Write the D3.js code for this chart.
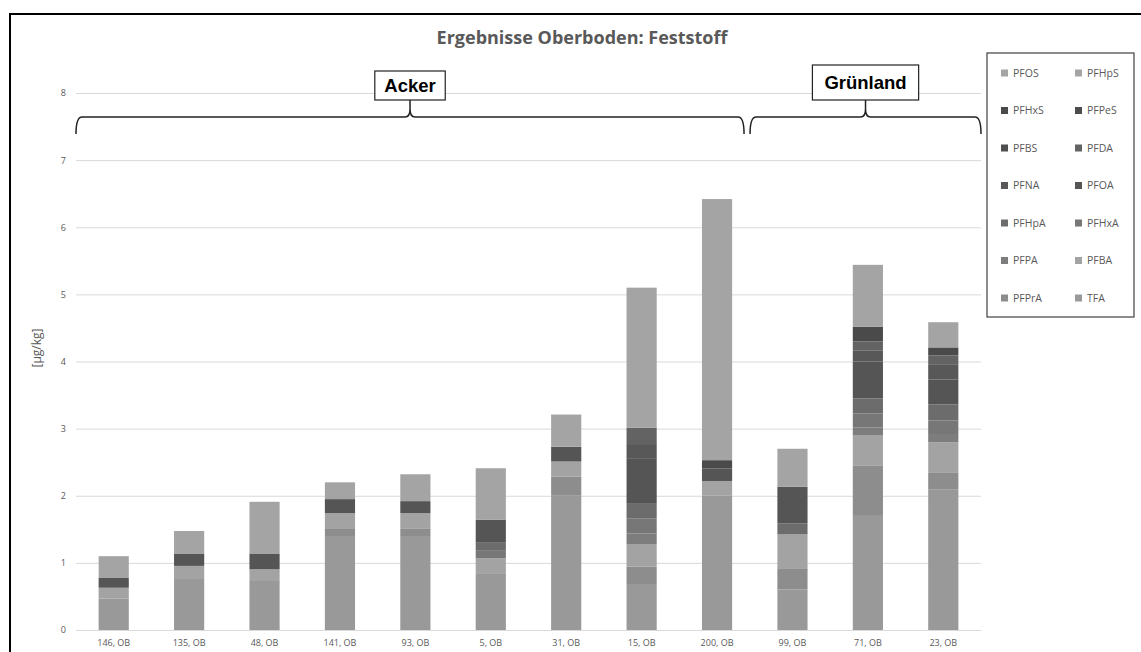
<!DOCTYPE html>
<html><head><meta charset="utf-8">
<script src="https://cdn.jsdelivr.net/npm/d3@7"></script>
<style>body{margin:0;background:#fff}svg{display:block}</style>
</head><body>
<svg id="c" width="1141" height="652"></svg>
<script>
const categories = ["146, OB","135, OB","48, OB","141, OB","93, OB","5, OB","31, OB","15, OB","200, OB","99, OB","71, OB","23, OB"];
// stack order bottom -> top
const seriesNames = ["TFA","PFPrA","PFBA","PFPA","PFHxA","PFHpA","PFOA","PFNA","PFDA","PFBS","PFPeS","PFHxS","PFHpS","PFOS"];
const TFA   = [0.47,0.76,0.73,1.40,1.40,0.835,2.00,0.685,2.00,0.605,1.70,2.09];
const PFPrA = [0,0,0,0.105,0.115,0,0.285,0.26,0,0.315,0.745,0.25];
const PFBA  = [0.16,0.195,0.175,0.235,0.225,0.235,0.225,0.335,0.22,0.51,0.46,0.455];
const PFPA  = [0,0,0,0,0,0,0,0.16,0,0,0.11,0.125];
const PFHxA = [0,0,0,0,0,0.12,0,0.225,0,0,0.21,0.20];
const PFHpA = [0,0,0,0,0,0.11,0,0.215,0,0.16,0.225,0.24];
const PFOA  = [0.145,0.185,0.235,0.21,0.18,0.345,0.22,0.68,0.185,0.545,0.55,0.37];
const PFNA  = [0,0,0,0,0,0,0,0.21,0,0,0.16,0.23];
const PFDA  = [0,0,0,0,0,0,0,0.245,0,0,0.14,0.13];
const PFBS  = [0,0,0,0,0,0,0,0,0,0,0,0];
const PFPeS = [0,0,0,0,0,0,0,0,0,0,0,0];
const PFHxS = [0,0,0,0,0,0,0,0,0.125,0,0.22,0.12];
const PFHpS = [0,0,0,0,0,0,0,0,0,0,0,0];
const PFOS  = [0.325,0.335,0.77,0.25,0.40,0.765,0.48,2.085,3.89,0.565,0.92,0.375];
const yTicks = [0,1,2,3,4,5,6,7,8];
const legendOrder = ["PFOS","PFHpS","PFHxS","PFPeS","PFBS","PFDA","PFNA","PFOA","PFHpA","PFHxA","PFPA","PFBA","PFPrA","TFA"];
const groups = [{label:"Acker", from:"146, OB", to:"200, OB"},{label:"Grünland", from:"99, OB", to:"23, OB"}];

(function(){
const seriesValues = {TFA,PFPrA,PFBA,PFPA,PFHxA,PFHpA,PFOA,PFNA,PFDA,PFBS,PFPeS,PFHxS,PFHpS,PFOS};
const colors = {TFA:"#999999",PFPrA:"#8d8d8d",PFBA:"#a3a3a3",PFPA:"#7d7d7d",PFHxA:"#777777",PFHpA:"#6c6c6c",
  PFOA:"#555555",PFNA:"#585858",PFDA:"#636363",PFBS:"#4f4f4f",PFPeS:"#4d4d4d",PFHxS:"#4a4a4a",PFHpS:"#a5a5a5",PFOS:"#a4a4a4"};

const svg = d3.select("#c");
const font = "'Open Sans', sans-serif";
const pL = 76, pR = 981, pT = 93, pB = 630;

const x = d3.scaleBand().domain(categories).range([pL,pR]).paddingInner(0.6).paddingOuter(0.3);
const y = d3.scaleLinear().domain([0,8]).range([pB,pT]);

// outer frame
svg.append("rect").attr("x",10).attr("y",14).attr("width",1140).attr("height",660)
  .attr("fill","none").attr("stroke","#000").attr("stroke-width",2);

// title
svg.append("text").attr("x",582).attr("y",44).attr("text-anchor","middle")
  .attr("font-family",font).attr("font-weight","bold").attr("font-size",18).attr("fill","#595959")
  .text("Ergebnisse Oberboden: Feststoff");

// gridlines
const yAxis = d3.axisLeft(y).tickValues(yTicks).tickSize(-(pR-pL)).tickFormat(d3.format("d"));
const gy = svg.append("g").attr("transform",`translate(${pL},0)`).call(yAxis);
gy.select(".domain").remove();
gy.selectAll(".tick line").attr("stroke","#d9d9d9").attr("stroke-width",1);
gy.selectAll(".tick text").attr("x",-10).attr("font-family",font).attr("font-size",9).attr("fill","#595959");

// y title
svg.append("text").attr("transform","translate(41,348) rotate(-90)").attr("text-anchor","middle")
  .attr("font-family",font).attr("font-size",12).attr("fill","#595959").text("[µg/kg]");

// stacked bars
const rows = categories.map((c,i)=>{const o={cat:c}; seriesNames.forEach(s=>o[s]=seriesValues[s][i]); return o;});
const stacked = d3.stack().keys(seriesNames)(rows);
svg.append("g").selectAll("g").data(stacked).join("g").attr("fill",d=>colors[d.key])
  .selectAll("rect").data(d=>d).join("rect")
  .attr("x",d=>x(d.data.cat)).attr("width",x.bandwidth())
  .attr("y",d=>y(d[1])).attr("height",d=>Math.max(0,y(d[0])-y(d[1])));

// x axis labels
const xAxis = d3.axisBottom(x).tickSize(0);
const gx = svg.append("g").attr("transform",`translate(0,${pB})`).call(xAxis);
gx.select(".domain").remove();
gx.selectAll(".tick text").attr("dy","1.45em").attr("font-family",font).attr("font-size",9).attr("fill","#595959");

// group braces
const braceY = 117, braceEnd = 134, step = x.step();
groups.forEach((g,gi)=>{
  const half = (step - x.bandwidth())/2;
  const x0 = gi===0 ? x(g.from) - half : x(g.from) - half - 4.7;
  const x1 = gi===0 ? x(g.to) + x.bandwidth() + half - 10.7 : x(g.to) + x.bandwidth() + half;
  const tip = (x0+x1)/2;
  const p = `M${x0},${braceEnd} Q${x0},${braceY} ${x0+6},${braceY} H${tip-5} Q${tip},${braceY} ${tip},${braceY-8} L${tip},${braceY-17}`+
            ` M${tip},${braceY-8} Q${tip},${braceY} ${tip+5},${braceY} H${x1-6} Q${x1},${braceY} ${x1},${braceEnd}`;
  svg.append("path").attr("d",p).attr("fill","none").attr("stroke","#222").attr("stroke-width",1.5);
  const bg = svg.append("rect");
  const t = svg.append("text").attr("x",tip).attr("y",gi===0?92:89).attr("text-anchor","middle")
    .attr("font-family","'Liberation Sans', Arial, sans-serif").attr("font-weight","bold").attr("font-size",18.5).attr("fill","#000").text(g.label);
  const bb = t.node().getBBox();
  const padX = gi===0?9.5:12;
  bg.attr("x",bb.x-padX).attr("y",gi===0?71:65)
    .attr("width",bb.width+2*padX).attr("height",gi===0?29:35).attr("fill","#fff").attr("stroke","#222").attr("stroke-width",1.2);
});

// legend
svg.append("rect").attr("x",987).attr("y",53).attr("width",147).attr("height",264)
  .attr("fill","#fff").attr("stroke","#404040").attr("stroke-width",1.2);
const lg = svg.append("g");
legendOrder.forEach((s,i)=>{
  const col = i%2, row = Math.floor(i/2);
  const lx = 1001 + col*74, ly = 73 + row*37.5;
  lg.append("rect").attr("x",lx).attr("y",ly-3.5).attr("width",7).attr("height",7).attr("fill",colors[s]);
  lg.append("text").attr("x",lx+12).attr("y",ly).attr("dy","0.35em").attr("font-family",font)
    .attr("font-size",10.5).attr("fill","#595959").text(s);
});
})();
</script>
</body></html>
